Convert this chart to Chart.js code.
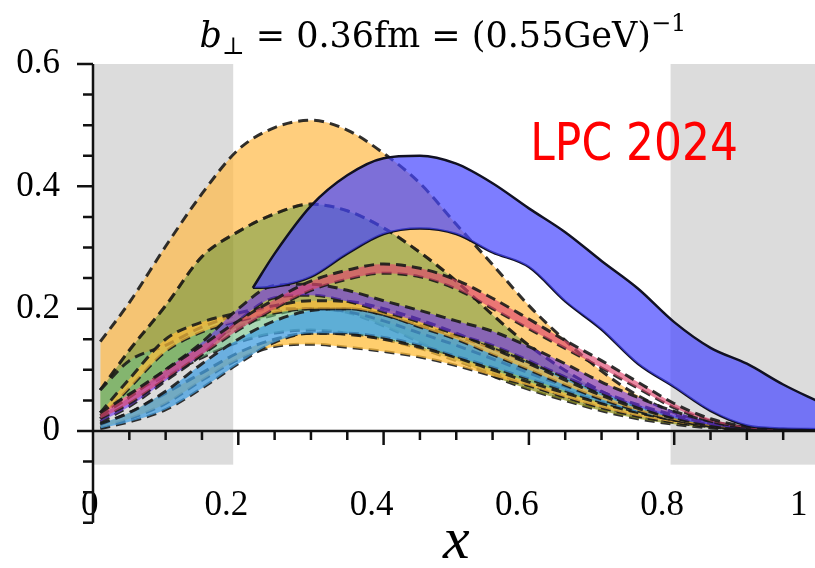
<!DOCTYPE html>
<html>
<head>
<meta charset="utf-8">
<script src="https://cdn.jsdelivr.net/npm/chart.js@4.4.1/dist/chart.umd.min.js"></script>
<style>
  html, body { margin: 0; padding: 0; background: #fff; overflow: hidden; }
  #wrap { width: 830px; height: 568px; }
</style>
</head>
<body>
<div id="wrap"><canvas id="myChart" width="830" height="568"></canvas></div>
<script>
// x grid shared by the dashed bands
const xs = [0.01, 0.05, 0.1, 0.15, 0.2, 0.25, 0.3, 0.35, 0.4, 0.45, 0.5, 0.55, 0.6, 0.65, 0.7, 0.75, 0.8, 0.85, 0.9, 0.95, 1.0];

const orangeHi = [0.146, 0.21, 0.302, 0.388, 0.46, 0.496, 0.508, 0.492, 0.454, 0.405, 0.338, 0.272, 0.205, 0.148, 0.098, 0.058, 0.03, 0.013, 0.004, 0.001, 0];
const oliveHi = [0.067, 0.132, 0.205, 0.285, 0.326, 0.355, 0.371, 0.36, 0.332, 0.292, 0.245, 0.19, 0.14, 0.099, 0.065, 0.038, 0.02, 0.008, 0.002, 0, 0];
const oliveLo = [0.03, 0.06, 0.1, 0.14, 0.17, 0.19, 0.2, 0.194, 0.172, 0.145, 0.117, 0.09, 0.068, 0.05, 0.033, 0.02, 0.011, 0.005, 0.001, 0, 0];
const mintHi = [0.067, 0.115, 0.14, 0.17, 0.19, 0.2, 0.2, 0.195, 0.18, 0.16, 0.14, 0.118, 0.095, 0.073, 0.052, 0.034, 0.02, 0.01, 0.004, 0.001, 0];
const mintLo = [0.03, 0.06, 0.09, 0.12, 0.145, 0.16, 0.165, 0.16, 0.15, 0.135, 0.115, 0.095, 0.076, 0.057, 0.04, 0.026, 0.015, 0.007, 0.002, 0, 0];
const yellowHi = [0.01, 0.03, 0.062, 0.095, 0.128, 0.15, 0.16, 0.158, 0.15, 0.137, 0.12, 0.1, 0.08, 0.062, 0.045, 0.03, 0.018, 0.009, 0.003, 0.001, 0];
const yellowLo = [0.005, 0.02, 0.045, 0.083, 0.117, 0.138, 0.142, 0.137, 0.13, 0.121, 0.107, 0.09, 0.074, 0.055, 0.038, 0.024, 0.014, 0.007, 0.002, 0, 0];
const lightBlueHi = [0.012, 0.03, 0.065, 0.11, 0.15, 0.18, 0.197, 0.2, 0.19, 0.172, 0.155, 0.135, 0.112, 0.088, 0.064, 0.043, 0.026, 0.013, 0.005, 0.001, 0];
const lightBlueLo = [0.004, 0.015, 0.035, 0.07, 0.11, 0.145, 0.16, 0.16, 0.153, 0.14, 0.122, 0.104, 0.085, 0.066, 0.047, 0.031, 0.018, 0.009, 0.003, 0.001, 0];
const amberHi = [0.03, 0.085, 0.15, 0.178, 0.193, 0.205, 0.213, 0.212, 0.2, 0.182, 0.16, 0.135, 0.11, 0.083, 0.058, 0.037, 0.021, 0.01, 0.003, 0.001, 0];
const amberLo = [0.02, 0.07, 0.13, 0.162, 0.18, 0.193, 0.2, 0.2, 0.19, 0.17, 0.15, 0.125, 0.1, 0.075, 0.052, 0.033, 0.018, 0.008, 0.003, 0.001, 0];
const purpleHi = [0.025, 0.055, 0.1, 0.145, 0.2, 0.238, 0.24, 0.23, 0.213, 0.197, 0.18, 0.163, 0.138, 0.11, 0.08, 0.055, 0.032, 0.016, 0.006, 0.001, 0];
const purpleLo = [0.015, 0.04, 0.082, 0.125, 0.18, 0.218, 0.222, 0.212, 0.195, 0.178, 0.158, 0.14, 0.115, 0.088, 0.062, 0.04, 0.022, 0.01, 0.004, 0.001, 0];
const pinkHi = [0.03, 0.06, 0.1, 0.14, 0.18, 0.215, 0.245, 0.263, 0.273, 0.266, 0.247, 0.217, 0.183, 0.148, 0.115, 0.08, 0.045, 0.02, 0.007, 0.002, 0];
const pinkLo = [0.02, 0.045, 0.085, 0.125, 0.165, 0.2, 0.23, 0.248, 0.258, 0.252, 0.232, 0.2, 0.167, 0.135, 0.103, 0.07, 0.038, 0.016, 0.005, 0.001, 0];

// LPC 2024 band (solid edges)
const lpcX = [0.22, 0.25, 0.3, 0.35, 0.4, 0.45, 0.5, 0.55, 0.6, 0.65, 0.7, 0.75, 0.8, 0.85, 0.9, 0.95, 1.0];
const lpcHi = [0.234, 0.29, 0.368, 0.418, 0.446, 0.45, 0.437, 0.405, 0.364, 0.325, 0.278, 0.233, 0.178, 0.136, 0.11, 0.076, 0.047];
const lpcLo = [0.234, 0.236, 0.252, 0.29, 0.322, 0.331, 0.322, 0.292, 0.268, 0.212, 0.166, 0.11, 0.072, 0.033, 0.009, 0.004, 0.003];

const xTicks = [0, 0.2, 0.4, 0.6, 0.8, 1];
const yTicks = [0, 0.2, 0.4, 0.6];
const shaded = [[0, 0.193], [0.795, 1.0]];

const titleParts = [
    {text: 'b', font: 'italic 35px "DejaVu Serif"', dy: 0},
    {text: '\u22A5', font: '24px "DejaVu Serif"', dy: 7},
    {text: ' = 0.36fm = (0.55GeV)', font: '35px "DejaVu Serif"', dy: 0},
    {text: '\u22121', font: '24px "DejaVu Serif"', dy: -16}
];
const stamp = 'LPC 2024';

const dashed = {
    borderColor: 'rgba(25,25,25,0.9)',
    borderWidth: 3,
    borderDash: [10, 6],
    pointRadius: 0,
    cubicInterpolationMode: 'monotone'
};
const solid = {
    borderColor: '#111122',
    borderWidth: 2.5,
    pointRadius: 0,
    cubicInterpolationMode: 'monotone'
};

function band(xv, hi, lo, color, line) {
    return [
        Object.assign({data: xv.map((x, i) => ({x: x, y: hi[i]})), fill: '+1', backgroundColor: color}, line),
        Object.assign({data: xv.map((x, i) => ({x: x, y: lo[i]})), fill: false}, line)
    ];
}

// first in list = drawn on top
const datasets = [
    ...band(lpcX, lpcHi, lpcLo, 'rgba(70,70,255,0.7)', solid),
    ...band(xs, pinkHi, pinkLo, 'rgba(225,70,110,0.65)', dashed),
    ...band(xs, purpleHi, purpleLo, 'rgba(110,50,240,0.6)', dashed),
    ...band(xs, amberHi, amberLo, 'rgba(255,190,60,0.7)', dashed),
    ...band(xs, lightBlueHi, lightBlueLo, 'rgba(70,160,225,0.75)', dashed),
    ...band(xs, yellowHi, yellowLo, 'rgba(255,190,60,0.75)', dashed),
    ...band(xs, mintHi, mintLo, 'rgba(110,190,130,0.6)', dashed),
    ...band(xs, oliveHi, oliveLo, 'rgba(145,150,30,0.72)', dashed),
    ...band(xs, orangeHi, oliveHi, 'rgba(255,185,70,0.7)', dashed)
];

const shadePlugin = {
    id: 'shade',
    beforeDatasetsDraw(chart) {
        const {ctx, scales: {x, y}} = chart;
        ctx.save();
        ctx.fillStyle = '#dcdcdc';
        shaded.forEach(r => {
            const x0 = x.getPixelForValue(r[0]), x1 = x.getPixelForValue(r[1]);
            const y0 = y.getPixelForValue(0.6), y1 = y.getPixelForValue(-0.055);
            ctx.fillRect(x0, y0, x1 - x0, y1 - y0);
        });
        ctx.restore();
    }
};

const axesPlugin = {
    id: 'axes',
    afterDatasetsDraw(chart) {
        const {ctx, scales: {x, y}} = chart;
        const x0 = x.getPixelForValue(0), y0 = y.getPixelForValue(0);
        ctx.save();
        ctx.strokeStyle = '#111';
        ctx.lineWidth = 2.5;
        ctx.beginPath();
        ctx.moveTo(x0, y.getPixelForValue(0.6));
        ctx.lineTo(x0, y.getPixelForValue(-0.15));
        ctx.moveTo(x0, y0);
        ctx.lineTo(x.getPixelForValue(1), y0);
        // y ticks every 0.05
        for (let k = -3; k <= 12; k++) {
            const py = y.getPixelForValue(k * 0.05);
            const len = (k % 4 === 0) ? 16 : 10;
            ctx.moveTo(x0 - len, py);
            ctx.lineTo(x0, py);
        }
        // x ticks every 0.05
        for (let k = 1; k <= 20; k++) {
            const px = x.getPixelForValue(k * 0.05);
            const len = (k % 4 === 0) ? 14 : 9;
            ctx.moveTo(px, y0);
            ctx.lineTo(px, y0 + len);
        }
        ctx.stroke();
        ctx.restore();
    }
};

const textPlugin = {
    id: 'texts',
    afterDraw(chart) {
        const {ctx, scales: {x, y}} = chart;
        ctx.save();
        ctx.fillStyle = '#000';
        ctx.textBaseline = 'alphabetic';
        let total = 0;
        titleParts.forEach(p => { ctx.font = p.font; p.w = ctx.measureText(p.text).width; total += p.w; });
        let cx = 443 - total / 2;
        titleParts.forEach(p => {
            ctx.font = p.font;
            ctx.fillText(p.text, cx, 47 + p.dy);
            cx += p.w;
        });
        ctx.fillStyle = '#ff0000';
        ctx.font = '44px "DejaVu Sans"';
        ctx.translate(x.getPixelForValue(0.602), y.getPixelForValue(0.443));
        ctx.scale(1, 1.17);
        ctx.fillText(stamp, 0, 0);
        ctx.restore();
    }
};

const tickFont = {family: 'Liberation Serif', size: 35};

new Chart(document.getElementById('myChart'), {
    type: 'line',
    data: {datasets: datasets},
    options: {
        responsive: false,
        animation: false,
        layout: {padding: {top: 64, right: 10.5, bottom: 0, left: 0}},
        plugins: {legend: {display: false}, tooltip: {enabled: false}},
        scales: {
            x: {
                type: 'linear', min: 0, max: 1,
                grid: {display: false, drawTicks: true, tickLength: 50},
                border: {display: false},
                afterBuildTicks: s => { s.ticks = xTicks.map(v => ({value: v})); },
                afterFit: s => { s.height = 137; },
                ticks: {
                    autoSkip: false, maxRotation: 0, align: 'inner', labelOffset: -12,
                    padding: 4, color: '#000', font: tickFont,
                    callback: v => String(v)
                },
                title: {
                    display: true, text: 'x', color: '#000',
                    font: {family: 'Liberation Serif', style: 'italic', size: 60, lineHeight: 1},
                    padding: {top: 0, bottom: -4}
                }
            },
            y: {
                type: 'linear', min: 0, max: 0.6,
                grid: {display: false, drawTicks: true, tickLength: 29},
                border: {display: false},
                afterBuildTicks: s => { s.ticks = yTicks.map(v => ({value: v})); },
                afterFit: s => { s.width = 93; },
                ticks: {padding: 4, color: '#000', font: tickFont, callback: v => String(v)}
            }
        }
    },
    plugins: [shadePlugin, axesPlugin, textPlugin]
});
</script>
</body>
</html>
